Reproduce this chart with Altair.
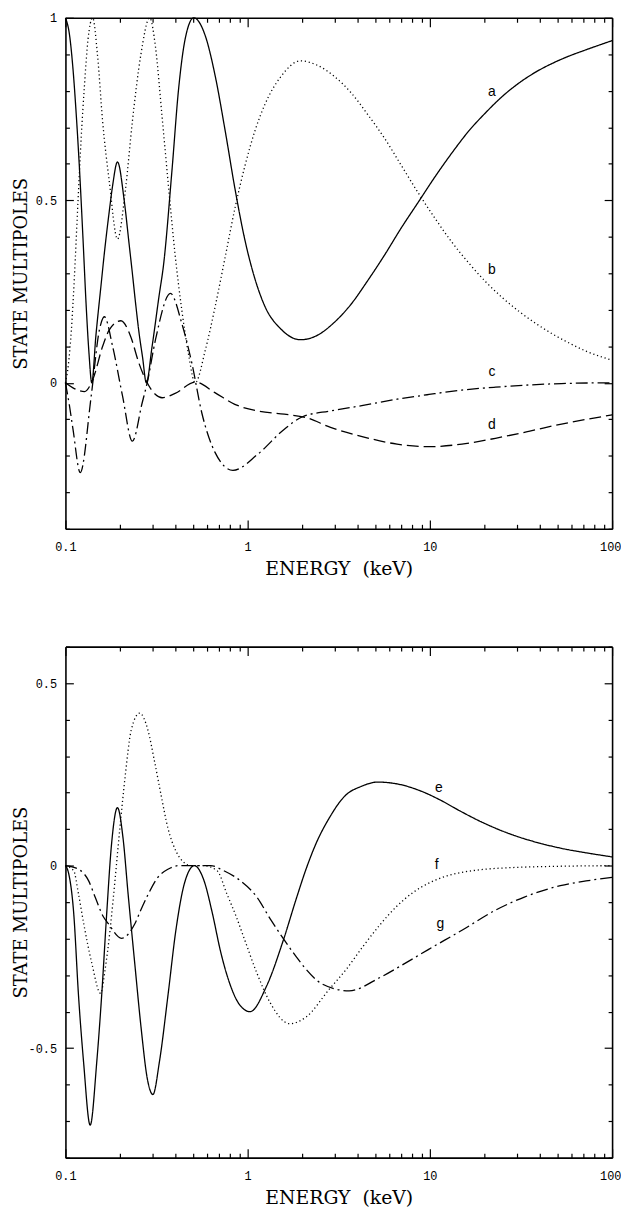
import altair as alt
import pandas as pd

# ---------------- data ----------------
# top panel
A_E = [0.1, 0.1055, 0.110, 0.1148, 0.1196, 0.1247, 0.130, 0.1347, 0.1395, 0.147, 0.157, 0.1635, 0.174, 0.1815,
       0.193, 0.2101, 0.2236, 0.233, 0.243, 0.253, 0.265, 0.278, 0.299, 0.326, 0.346, 0.384, 0.418, 0.454, 0.506,
       0.586, 0.664, 0.753, 0.853, 0.967, 1.096, 1.242, 1.517, 1.949, 2.41, 2.98, 3.69, 4.56, 5.64, 6.98, 8.64,
       10.69, 13.22, 16.36, 20.23, 25.03, 30.97, 38.3, 47.38, 58.62, 72.51, 100]
A_V = [1.0, 0.95, 0.86, 0.73, 0.58, 0.40, 0.21, 0.08, 0.0, 0.13, 0.27, 0.355, 0.47, 0.54,
       0.605, 0.5, 0.38, 0.3, 0.215, 0.14, 0.07, 0.0, 0.1, 0.236, 0.326, 0.58, 0.806, 0.942, 1.0,
       0.95, 0.84, 0.69, 0.53, 0.39, 0.285, 0.21, 0.148, 0.118, 0.13, 0.165, 0.215, 0.28, 0.35, 0.425, 0.495,
       0.565, 0.63, 0.69, 0.74, 0.785, 0.822, 0.852, 0.876, 0.896, 0.913, 0.9375]

B_E = [0.1, 0.1038, 0.1078, 0.112, 0.117, 0.122, 0.127, 0.133, 0.141, 0.150, 0.160, 0.174, 0.193, 0.214, 0.233,
       0.259, 0.29, 0.312, 0.339, 0.369, 0.40, 0.435, 0.473, 0.515, 0.586, 0.664, 0.753, 0.853, 0.967, 1.096,
       1.242, 1.517, 1.949, 2.41, 2.98, 3.69, 4.56, 5.64, 6.98, 8.64, 10.69, 13.22, 16.36, 20.23, 25.03, 30.97,
       38.3, 47.38, 58.62, 72.51, 100]
B_V = [0.0, 0.05, 0.145, 0.29, 0.49, 0.67, 0.81, 0.94, 1.0, 0.897, 0.716, 0.552, 0.394, 0.534, 0.716,
       0.897, 1.0, 0.92, 0.73, 0.53, 0.35, 0.2, 0.08, 0.0, 0.09, 0.21, 0.345, 0.48, 0.595, 0.69,
       0.762, 0.838, 0.882, 0.87, 0.84, 0.795, 0.735, 0.67, 0.595, 0.52, 0.45, 0.385, 0.328, 0.277, 0.233, 0.195,
       0.162, 0.133, 0.108, 0.086, 0.062]

C_E = [0.1, 0.105, 0.110, 0.1206, 0.1385, 0.1536, 0.1636, 0.1815, 0.2057, 0.233, 0.264, 0.281, 0.312, 0.377,
       0.435, 0.494, 0.56, 0.661, 0.83, 1.14, 1.59, 2.0, 2.85, 4.3, 6.6, 9.9, 15, 22.9, 34.9, 52.8, 100]
C_V = [0.0, -0.06, -0.127, -0.246, -0.036, 0.145, 0.181, 0.1, -0.036, -0.16, -0.054, 0.0, 0.118, 0.245,
       0.163, 0.054, -0.082, -0.19, -0.24, -0.195, -0.127, -0.093, -0.077, -0.062, -0.045, -0.032, -0.02,
       -0.012, -0.006, -0.002, 0.0]

D_E = [0.1, 0.110, 0.1273, 0.1413, 0.160, 0.174, 0.2016, 0.228, 0.253, 0.281, 0.312, 0.339, 0.40, 0.515,
       0.661, 0.85, 1.14, 1.59, 2.08, 2.85, 4.3, 6.6, 9.9, 15, 22.9, 34.9, 52.8, 100]
D_V = [0.0, -0.014, -0.024, 0.009, 0.1, 0.145, 0.170, 0.127, 0.054, 0.0, -0.032, -0.041, -0.029, 0.002,
       -0.027, -0.059, -0.077, -0.086, -0.095, -0.122, -0.148, -0.168, -0.175, -0.168, -0.152, -0.133,
       -0.113, -0.088]

TOP_LABELS = ["a", "b", "c", "d"]
TOP_LABEL_E = [21.9, 21.9, 21.9, 21.9]
TOP_LABEL_V = [0.796, 0.31, 0.029, -0.116]

# bottom panel
E_E = [0.1, 0.104, 0.111, 0.118, 0.1257, 0.1367, 0.1486, 0.158, 0.1684, 0.179, 0.193, 0.207, 0.2208, 0.240,
       0.2605, 0.281, 0.302, 0.328, 0.365, 0.404, 0.449, 0.51, 0.576, 0.64, 0.71, 0.80, 0.9, 1.03, 1.27, 1.57,
       1.85, 2.09, 2.37, 2.8, 3.45, 4.2, 5.15, 6.9, 8.86, 11.38, 14.61, 18.77, 24.1, 30.97, 39.78, 54.37,
       74.33, 100]
E_V = [0.0, -0.02, -0.13, -0.357, -0.537, -0.711, -0.537, -0.357, -0.132, 0.058, 0.159, 0.076, -0.078, -0.267,
       -0.447, -0.582, -0.627, -0.537, -0.357, -0.176, -0.05, 0.0, -0.041, -0.13, -0.235, -0.325, -0.38, -0.4,
       -0.33, -0.204, -0.09, -0.01, 0.06, 0.13, 0.193, 0.217, 0.229, 0.222, 0.205, 0.18, 0.15, 0.122, 0.098,
       0.078, 0.062, 0.046, 0.034, 0.024]

F_E = [0.1, 0.111, 0.118, 0.126, 0.1395, 0.156, 0.165, 0.1757, 0.183, 0.199, 0.212, 0.23, 0.2556, 0.283,
       0.309, 0.335, 0.365, 0.404, 0.449, 0.49, 0.576, 0.68, 0.77, 0.866, 0.95, 1.123, 1.327, 1.70, 2.09, 2.8,
       3.465, 4.286, 5.303, 6.56, 8.113, 10.04, 12.42, 15.55, 19.98, 29.09, 47.97, 100]
F_V = [0.0, -0.014, -0.078, -0.159, -0.267, -0.35, -0.285, -0.177, -0.09, 0.103, 0.238, 0.373, 0.418, 0.373,
       0.283, 0.193, 0.103, 0.04, 0.008, 0.0, 0.0, -0.014, -0.078, -0.14, -0.195, -0.294, -0.375, -0.433,
       -0.415, -0.339, -0.285, -0.222, -0.163, -0.112, -0.073, -0.046, -0.028, -0.017, -0.01, -0.005,
       -0.002, 0.0]

G_E = [0.1, 0.118, 0.1339, 0.1455, 0.1615, 0.172, 0.2031, 0.24, 0.26, 0.2835, 0.3215, 0.365, 0.42, 0.626,
       0.74, 0.91, 1.123, 1.327, 1.57, 1.85, 2.06, 2.58, 3.6, 5.3, 7.34, 9.8, 15, 22.9, 33, 52, 72, 100]
G_V = [0.0, -0.01, -0.041, -0.086, -0.14, -0.159, -0.199, -0.16, -0.12, -0.08, -0.032, -0.01, 0.0, 0.0,
       -0.014, -0.041, -0.086, -0.145, -0.2, -0.25, -0.28, -0.325, -0.343, -0.307, -0.267, -0.23, -0.177,
       -0.122, -0.086, -0.055, -0.042, -0.032]

BOT_LABELS = ["e", "f", "g"]
BOT_LABEL_E = [11.2, 10.9, 11.4]
BOT_LABEL_V = [0.213, 0.002, -0.159]

# axes ticks / labels
X_TICKS = [0.1, 0.2, 0.3, 0.4, 0.5, 0.6, 0.7, 0.8, 0.9, 1, 2, 3, 4, 5, 6, 7, 8, 9,
           10, 20, 30, 40, 50, 60, 70, 80, 90, 100]
X_LABELS = [0.1, 1, 10, 100]
Y_TICKS_TOP = [-0.4, -0.3, -0.2, -0.1, 0, 0.1, 0.2, 0.3, 0.4, 0.5, 0.6, 0.7, 0.8, 0.9, 1.0]
Y_LABELS_TOP = [0, 0.5, 1]
Y_TICKS_BOT = [-0.8, -0.7, -0.6, -0.5, -0.4, -0.3, -0.2, -0.1, 0, 0.1, 0.2, 0.3, 0.4, 0.5, 0.6]
Y_LABELS_BOT = [-0.5, 0, 0.5]

X_TITLE = "ENERGY\u00a0\u00a0(keV)"
Y_TITLE = "STATE MULTIPOLES"

# ---------------- chart ----------------
W = 552
H = 516

SERIES_ORDER = ["a", "b", "c", "d", "e", "f", "g"]
DASHES = [[1, 0], [1.2, 2.8], [12, 4, 2, 4], [12, 5], [1, 0], [1.2, 2.8], [12, 4, 2, 4]]

MAJOR_X = "datum.value == 0.1 || datum.value == 1 || datum.value == 10 || datum.value == 100"
MAJOR_Y = "abs(datum.value * 2 - round(datum.value * 2)) < 0.001"
TICK_X = {"condition": {"test": MAJOR_X, "value": 9}, "value": 4.5}
TICK_Y = {"condition": {"test": MAJOR_Y, "value": 8}, "value": 4}

SERIF = "DejaVu Serif"
MONO = "Liberation Mono"


def series_frame(items):
    rows = []
    for name, es, vs in items:
        assert len(es) == len(vs), name
        for e, v in zip(es, vs):
            rows.append({"series": name, "E": e, "v": v})
    return pd.DataFrame(rows)


def panel(df1, df2, lab_df, ydom, yticks, ylabels):
    xs = alt.Scale(type="log", domain=[0.1, 100], nice=False)
    ys = alt.Scale(domain=ydom, nice=False, zero=False)
    dash = alt.StrokeDash("series:N", scale=alt.Scale(domain=SERIES_ORDER, range=DASHES), legend=None)

    x_lab = alt.Axis(orient="bottom", values=X_LABELS, ticks=False, grid=False,
                     domain=True, domainColor="black", domainWidth=1.6,
                     labelExpr="toString(datum.value)", labelFont=MONO, labelFontSize=12,
                     labelColor="black", labelPadding=13, labelFlush=False,
                     labelAlign={"condition": {"test": "datum.value == 100", "value": "right"}, "value": "center"},
                     labelOffset={"condition": {"test": "datum.value == 100", "value": 9}, "value": 0},
                     title=X_TITLE, titleFont=SERIF, titleFontSize=19, titleFontWeight="normal",
                     titleColor="black", titlePadding=7)
    x_tick_bottom = alt.Axis(orient="top", offset=-H, values=X_TICKS, labels=False, grid=False,
                             domain=False, tickSize=TICK_X, tickColor="black", tickWidth=1.2, title=None)
    x_tick_top = alt.Axis(orient="bottom", offset=-H, values=X_TICKS, labels=False, grid=False,
                          domain=True, domainColor="black", domainWidth=1.6,
                          tickSize=TICK_X, tickColor="black", tickWidth=1.2, title=None)

    y_lab = alt.Axis(orient="left", values=ylabels, ticks=False, grid=False,
                     domain=True, domainColor="black", domainWidth=1.6,
                     labelExpr="toString(datum.value)", labelFont=MONO, labelFontSize=12,
                     labelColor="black", labelPadding=9,
                     title=Y_TITLE, titleFont=SERIF, titleFontSize=18, titleFontWeight="normal",
                     titleColor="black", titleX=-39, titleBaseline="alphabetic")
    y_tick_left = alt.Axis(orient="right", offset=-W, values=yticks, labels=False, grid=False,
                           domain=False, tickSize=TICK_Y, tickColor="black", tickWidth=1.2, title=None)
    y_tick_right = alt.Axis(orient="left", offset=-W, values=yticks, labels=False, grid=False,
                            domain=True, domainColor="black", domainWidth=1.6,
                            tickSize=TICK_Y, tickColor="black", tickWidth=1.2, title=None)

    l1 = alt.Chart(df1).mark_line(interpolate="monotone", color="black", strokeWidth=1.3).encode(
        x=alt.X("E:Q", scale=xs, axis=x_lab),
        y=alt.Y("v:Q", scale=ys, axis=y_lab),
        strokeDash=dash,
    )
    l2 = alt.Chart(df2).mark_line(interpolate="monotone", color="black", strokeWidth=1.3).encode(
        x=alt.X("E:Q", scale=xs, axis=x_tick_bottom),
        y=alt.Y("v:Q", scale=ys, axis=y_tick_left),
        strokeDash=dash,
    )
    txt = alt.Chart(lab_df).mark_text(font="Liberation Sans", fontSize=14, color="black").encode(
        x=alt.X("E:Q", scale=xs, axis=x_tick_top),
        y=alt.Y("v:Q", scale=ys, axis=y_tick_right),
        text="label:N",
    )
    return alt.layer(l1, l2, txt).resolve_axis(x="independent", y="independent").properties(
        width=W, height=H)


top_df1 = series_frame([("a", A_E, A_V), ("b", B_E, B_V)])
top_df2 = series_frame([("c", C_E, C_V), ("d", D_E, D_V)])
top_lab = pd.DataFrame({"label": TOP_LABELS, "E": TOP_LABEL_E, "v": TOP_LABEL_V})

bot_df1 = series_frame([("e", E_E, E_V), ("f", F_E, F_V)])
bot_df2 = series_frame([("g", G_E, G_V)])
bot_lab = pd.DataFrame({"label": BOT_LABELS, "E": BOT_LABEL_E, "v": BOT_LABEL_V})

top = panel(top_df1, top_df2, top_lab, [-0.4, 1.0], Y_TICKS_TOP, Y_LABELS_TOP)
bottom = panel(bot_df1, bot_df2, bot_lab, [-0.8, 0.6], Y_TICKS_BOT, Y_LABELS_BOT)

chart = alt.vconcat(top, bottom, spacing=119, bounds="flush").properties(
    padding={"left": 5, "top": -2, "right": 0, "bottom": 0},
    background="white",
).configure_view(stroke=None)

chart.save("out.html", embed_options={"renderer": "svg", "actions": False})
